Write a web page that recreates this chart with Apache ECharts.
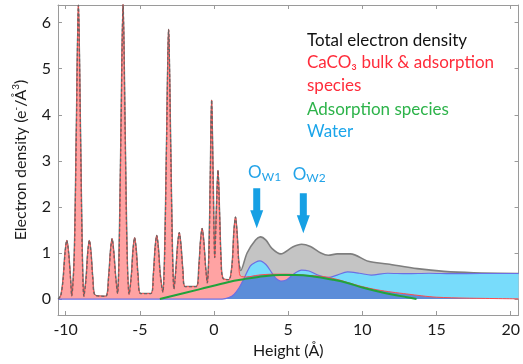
<!DOCTYPE html>
<html><head><meta charset="utf-8">
<script src="https://cdn.jsdelivr.net/npm/echarts@6/dist/echarts.min.js"></script>
<style>html,body{margin:0;padding:0;background:#fff}#c{width:523px;height:364px}</style>
</head><body><div id="c"></div>
<script>
// ---- data ----
const xTicks = [-10, -5, 0, 5, 10, 15, 20];
const yTicks = [0, 1, 2, 3, 4, 5, 6];
const xLabel = 'Height (Å)';
const legendLines = ['Total electron density', 'CaCO₃ bulk & adsorption', 'species', 'Adsorption species', 'Water'];
const annotations = ['W1', 'W2'];

// CaCO3 bulk & adsorption species
const bulk = [
  [-10.5,0.0],[-10.32,0.08],[-10.17,0.43],[-10.04,1.0],[-9.92,1.27],[-9.80,1.0],[-9.67,0.43],[-9.59,0.07],
  [-9.42,0.9],[-9.28,3.6],[-9.14,6.38],[-9.0,3.6],[-8.88,1.0],[-8.77,0.06],
  [-8.62,0.45],[-8.51,1.0],[-8.4,1.27],[-8.29,1.0],[-8.17,0.45],[-8.0,0.08],[-7.3,0.06],
  [-7.1,0.48],[-6.98,1.03],[-6.87,1.31],[-6.76,1.03],[-6.63,0.48],[-6.5,0.12],
  [-6.4,0.9],[-6.27,3.6],[-6.13,6.4],[-5.99,3.6],[-5.86,1.0],[-5.72,0.1],
  [-5.57,0.5],[-5.46,1.05],[-5.35,1.33],[-5.24,1.05],[-5.12,0.5],[-4.95,0.12],[-4.25,0.12],
  [-4.08,0.55],[-3.97,1.1],[-3.86,1.38],[-3.75,1.1],[-3.63,0.55],[-3.45,0.15],
  [-3.33,0.9],[-3.2,3.3],[-3.06,5.85],[-2.92,3.3],[-2.8,1.0],[-2.7,0.22],
  [-2.57,0.62],[-2.45,1.17],[-2.34,1.44],[-2.23,1.17],[-2.1,0.62],[-1.95,0.27],[-1.2,0.27],
  [-1.02,0.7],[-0.91,1.25],[-0.8,1.53],[-0.69,1.25],[-0.57,0.7],[-0.45,0.35],
  [-0.34,1.0],[-0.25,2.6],[-0.16,4.32],[-0.06,2.6],[0.05,0.9],
  [0.16,1.9],[0.27,2.79],[0.37,1.9],[0.48,0.8],[0.6,0.45],[1.0,0.42],
  [1.22,0.75],[1.34,1.45],[1.45,1.78],[1.56,1.4],[1.67,0.8],[1.78,0.5],
  [2.2,0.48],[3.0,0.52],[4.0,0.54],[5.0,0.54],[6.0,0.52],[7.0,0.5],[7.7,0.47],[8.5,0.41],
  [9.0,0.36],[10.0,0.27],[11.0,0.2],[12.0,0.15],[13.0,0.11],[14.0,0.07],[15.0,0.04],[17.0,0.02],[20.53,0.005]
];
// Total electron density where it rises above the bulk curve
const totalRight = [
  [1.8,0.62],[2.23,1.0],[2.8,1.28],[3.12,1.35],[3.5,1.28],[3.9,1.1],[4.5,0.98],[5.3,1.13],[5.9,1.19],
  [6.5,1.14],[7.2,1.0],[7.7,0.95],[8.3,0.98],[9.2,0.98],[10.4,0.82],[11.7,0.76],[13.7,0.66],
  [15.5,0.6],[17.5,0.57],[20.53,0.555]
];
// Water
const water = [
  [-10.5,0],[0.55,0],[1.0,0.03],[1.35,0.1],[1.7,0.25],[2.0,0.43],[2.45,0.72],[2.8,0.8],[3.1,0.83],
  [3.5,0.75],[3.9,0.57],[4.2,0.44],[4.5,0.39],[4.9,0.42],[5.4,0.55],[5.9,0.63],[6.4,0.61],[7.0,0.52],
  [7.7,0.47],[8.3,0.52],[9.0,0.59],[9.8,0.56],[10.6,0.52],[11.7,0.56],[13.0,0.55],[14.5,0.56],
  [16.0,0.55],[18.0,0.555],[20.53,0.555]
];
// region shared by water and bulk (dark blue)
const overlap = [
  [0.55,0],[1.0,0.03],[1.35,0.1],[1.7,0.25],[2.0,0.43],[2.2,0.48],[3.0,0.52],[3.9,0.54],[4.2,0.44],
  [4.5,0.39],[4.9,0.42],[5.2,0.5],[5.4,0.53],[6.0,0.52],[7.0,0.5],[7.7,0.47],[8.5,0.41],[9.0,0.36],
  [10.0,0.27],[11.0,0.2],[12.0,0.15],[13.0,0.11],[14.0,0.07],[15.0,0.04],[17.0,0.02],[20.53,0.005]
];
// Adsorption species
const adsorption = [
  [-3.65,0],[-1.0,0.21],[1.0,0.37],[2.0,0.43],[3.0,0.48],[4.5,0.52],[5.5,0.52],[6.7,0.49],[8.0,0.42],
  [9.0,0.35],[10.0,0.25],[11.0,0.17],[12.0,0.1],[13.0,0.04],[13.65,0]
];
// arrow / label anchors (data coords)
const arrowPos = [[2.88, 1.97], [6.02, 1.86]];
const labelPos = [[3.41, 2.74], [6.42, 2.71]];

const total = bulk.filter(p => p[0] < 1.7).concat(totalRight);
const totalDashed = bulk.filter(p => p[0] < 1.7).concat(totalRight.slice(0, 1));

const FONT = 'Lato, "Open Sans", sans-serif';
const axisCol = '#9a9a9a';
const chart = echarts.init(document.getElementById('c'), null, {renderer: 'canvas'});

function baseX(pos, show) {
  return {
    type: 'value', position: pos, min: -10.515, max: 20.53,
    axisLine: {show: true, onZero: false, lineStyle: {color: axisCol, width: 1}},
    axisTick: {show: true, inside: true, length: 4, customValues: xTicks, lineStyle: {color: axisCol}},
    axisLabel: {show: show, customValues: xTicks, margin: 7, color: '#1a1a1a', fontSize: 16, fontFamily: FONT},
    splitLine: {show: false}
  };
}
function baseY(pos, show) {
  return {
    type: 'value', position: pos, min: -0.346, max: 6.382,
    axisLine: {show: true, onZero: false, lineStyle: {color: axisCol, width: 1}},
    axisTick: {show: true, inside: true, length: 4, customValues: yTicks, lineStyle: {color: axisCol}},
    axisLabel: {show: show, customValues: yTicks, margin: 7, color: '#1a1a1a', fontSize: 16, fontFamily: FONT},
    splitLine: {show: false}
  };
}
const xA = baseX('bottom', true);
xA.name = xLabel; xA.nameLocation = 'middle'; xA.nameGap = 28;
xA.nameTextStyle = {fontSize: 16, fontFamily: FONT, color: '#1a1a1a'};
const yA = baseY('left', true);
yA.name = 'Electron density (e{s|-}/Å{s|3})'; yA.nameLocation = 'middle'; yA.nameGap = 27;
yA.nameTextStyle = {fontSize: 16, fontFamily: FONT, color: '#1a1a1a', lineHeight: 20,
  rich: {s: {fontSize: 10, fontFamily: FONT, color: '#1a1a1a', verticalAlign: 'top', lineHeight: 12}}};

const sm = 0.3;
const lineBase = {type: 'line', showSymbol: false, symbol: 'none', smooth: sm, animation: false};

const legendCols = ['#111111', '#ff2b3a', '#ff2b3a', '#2db34a', '#1aa5ea'];
const legendY = [41, 63, 85.5, 109.5, 131.5];

chart.setOption({
  animation: false,
  grid: {left: 58, right: 1, top: 5, bottom: 48},
  xAxis: [xA, baseX('top', false)],
  yAxis: [yA, baseY('right', false)],
  graphic: legendLines.map((t, i) => ({
    type: 'text', x: 307, y: legendY[i], z: 100,
    style: {text: t, fill: legendCols[i], font: '17px ' + FONT, verticalAlign: 'middle'}
  })),
  series: [
    Object.assign({}, lineBase, {name: 'Total area', data: total, z: 1,
      lineStyle: {color: '#7e7e7e', width: 1.6}, areaStyle: {color: '#c4c4c4', opacity: 1}}),
    Object.assign({}, lineBase, {name: 'CaCO3 fill', data: bulk, z: 2,
      lineStyle: {width: 0}, areaStyle: {color: '#ffa3a3', opacity: 1}}),
    Object.assign({}, lineBase, {name: 'Water fill', data: water, z: 3,
      lineStyle: {width: 0}, areaStyle: {color: '#78dcfb', opacity: 1}}),
    Object.assign({}, lineBase, {name: 'Overlap', data: overlap, z: 4,
      lineStyle: {width: 0}, areaStyle: {color: '#5b8dd9', opacity: 1}}),
    Object.assign({}, lineBase, {name: 'Water', data: water, z: 5,
      lineStyle: {color: '#6b6fe3', width: 1.2}}),
    Object.assign({}, lineBase, {name: 'CaCO3', data: bulk, z: 6,
      lineStyle: {color: '#ff4b4b', width: 1}}),
    Object.assign({}, lineBase, {name: 'Adsorption species', data: adsorption, z: 7, smooth: 0.4,
      lineStyle: {color: '#21a33b', width: 2}}),
    Object.assign({}, lineBase, {name: 'Total electron density', data: totalDashed, z: 8,
      lineStyle: {color: '#666666', width: 1.3, type: [3, 2]},
      markPoint: {
        silent: true, animation: false,
        data: arrowPos.map(p => ({
          coord: p, symbol: 'path://M3,0 L10,0 L10,22 L13,22 L6.5,40 L0,22 L3,22 Z',
          symbolSize: [13, 40], itemStyle: {color: '#16a0e4'}, label: {show: false}
        })).concat(labelPos.map((p, i) => ({
          coord: p, symbol: 'circle', symbolSize: 1, itemStyle: {color: 'rgba(0,0,0,0)'},
          label: {show: true, position: 'inside', formatter: '{o|O}{w|' + annotations[i] + '}',
            rich: {o: {fontSize: 17, fontFamily: FONT, color: '#22a3e8', lineHeight: 20},
                   w: {fontSize: 12, fontFamily: FONT, color: '#22a3e8', verticalAlign: 'bottom', lineHeight: 15}}}
        })))
      }})
  ]
});
</script></body></html>
